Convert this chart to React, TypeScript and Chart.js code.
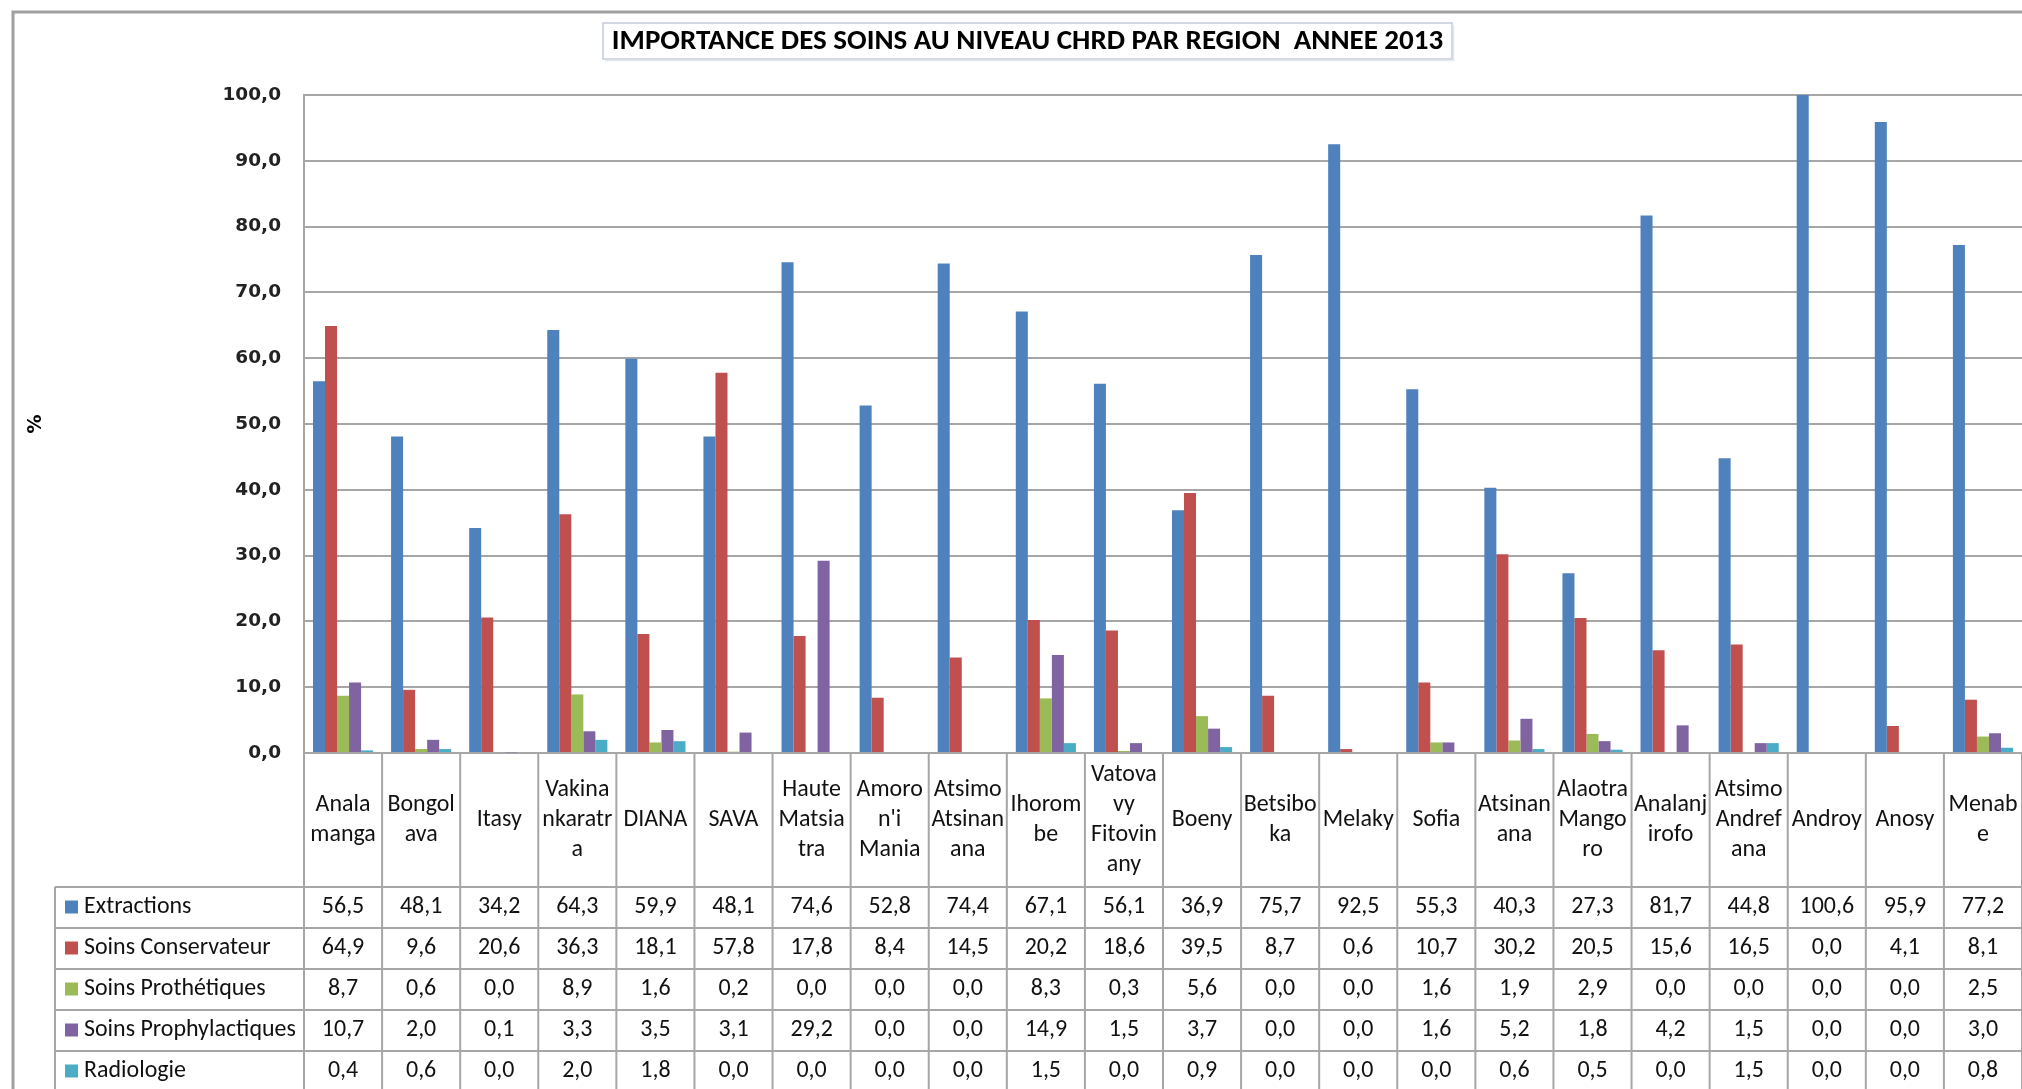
import React, { useEffect, useRef } from "react";
import { Chart, registerables } from "chart.js";

Chart.register(...registerables);

// ---- data ----
const chartTitle = "IMPORTANCE DES SOINS AU NIVEAU CHRD PAR REGION  ANNEE 2013";
const yAxisTitle = "%";

const categories: string[][] = [
  ["Anala", "manga"],
  ["Bongol", "ava"],
  ["Itasy"],
  ["Vakina", "nkaratr", "a"],
  ["DIANA"],
  ["SAVA"],
  ["Haute", "Matsia", "tra"],
  ["Amoro", "n'i", "Mania"],
  ["Atsimo", "Atsinan", "ana"],
  ["Ihorom", "be"],
  ["Vatova", "vy", "Fitovin", "any"],
  ["Boeny"],
  ["Betsibo", "ka"],
  ["Melaky"],
  ["Sofia"],
  ["Atsinan", "ana"],
  ["Alaotra", "Mango", "ro"],
  ["Analanj", "irofo"],
  ["Atsimo", "Andref", "ana"],
  ["Androy"],
  ["Anosy"],
  ["Menab", "e"],
];

const seriesNames = [
  "Extractions",
  "Soins Conservateur",
  "Soins Prothétiques",
  "Soins Prophylactiques",
  "Radiologie",
];

const extractions = [56.5, 48.1, 34.2, 64.3, 59.9, 48.1, 74.6, 52.8, 74.4, 67.1, 56.1, 36.9, 75.7, 92.5, 55.3, 40.3, 27.3, 81.7, 44.8, 100.6, 95.9, 77.2];
const soinsConservateur = [64.9, 9.6, 20.6, 36.3, 18.1, 57.8, 17.8, 8.4, 14.5, 20.2, 18.6, 39.5, 8.7, 0.6, 10.7, 30.2, 20.5, 15.6, 16.5, 0.0, 4.1, 8.1];
const soinsProthetiques = [8.7, 0.6, 0.0, 8.9, 1.6, 0.2, 0.0, 0.0, 0.0, 8.3, 0.3, 5.6, 0.0, 0.0, 1.6, 1.9, 2.9, 0.0, 0.0, 0.0, 0.0, 2.5];
const soinsProphylactiques = [10.7, 2.0, 0.1, 3.3, 3.5, 3.1, 29.2, 0.0, 0.0, 14.9, 1.5, 3.7, 0.0, 0.0, 1.6, 5.2, 1.8, 4.2, 1.5, 0.0, 0.0, 3.0];
const radiologie = [0.4, 0.6, 0.0, 2.0, 1.8, 0.0, 0.0, 0.0, 0.0, 1.5, 0.0, 0.9, 0.0, 0.0, 0.0, 0.6, 0.5, 0.0, 1.5, 0.0, 0.0, 0.8];

const seriesValues = [extractions, soinsConservateur, soinsProthetiques, soinsProphylactiques, radiologie];

const yMin = 0;
const yMax = 100;
const yStep = 10;

// ---- styles ----
const seriesColors = ["#4F81BD", "#C0504D", "#9BBB59", "#8064A2", "#4BACC6"];
const lineGray = "#a6a6a6";
const tableFamily = "Carlito, Lato, 'Liberation Sans', sans-serif";

const fmt = (v: number) => v.toFixed(1).replace(".", ",");

const W = 2022;
const H = 1089;

const tablePlugin = {
  id: "dataTablePlugin",
  afterDraw(chart: any) {
    const { ctx, chartArea } = chart;
    const xs = chart.scales.x;
    const n = categories.length;
    const colW = (chartArea.right - chartArea.left) / n;
    const headerTop = chartArea.bottom;
    const headerBottom = headerTop + 134;
    const rowH = 41;
    const tableLeft = 55;

    ctx.save();

    // outer chart border (left + top)
    ctx.strokeStyle = "#a0a0a0";
    ctx.lineWidth = 3;
    ctx.beginPath();
    ctx.moveTo(13, H + 5);
    ctx.lineTo(13, 12);
    ctx.lineTo(W + 5, 12);
    ctx.stroke();

    // title box + text
    ctx.font = `bold 100px ${tableFamily}`;
    const tw = ctx.measureText(chartTitle).width;
    const titleSize = Math.min(30, (100 * 832) / tw);
    ctx.fillStyle = "#ffffff";
    ctx.fillRect(603, 23, 849, 36);
    ctx.strokeStyle = "#c4ccda";
    ctx.lineWidth = 1.5;
    ctx.strokeRect(603, 23, 849, 36);
    ctx.strokeStyle = "#e4e7ec";
    ctx.beginPath();
    ctx.moveTo(605, 60.5);
    ctx.lineTo(1453.5, 60.5);
    ctx.lineTo(1453.5, 25);
    ctx.stroke();
    ctx.fillStyle = "#000";
    ctx.font = `bold ${titleSize}px ${tableFamily}`;
    ctx.textAlign = "center";
    ctx.textBaseline = "middle";
    ctx.fillText(chartTitle, 1027.5, 42);

    // table font size fitted to the legend column width
    ctx.font = `100px ${tableFamily}`;
    const lw = ctx.measureText("Soins Prophylactiques").width;
    const fs = Math.min(24, (100 * 212) / lw);

    // grid lines of the table
    ctx.strokeStyle = lineGray;
    ctx.lineWidth = 2;
    ctx.beginPath();
    for (let i = 0; i <= n; i++) {
      const bx = i < n ? xs.getPixelForValue(i) - colW / 2 : xs.getPixelForValue(n - 1) + colW / 2;
      ctx.moveTo(bx, headerTop);
      ctx.lineTo(bx, H + 5);
    }
    ctx.moveTo(tableLeft, headerBottom);
    ctx.lineTo(tableLeft, H + 5);
    for (let r = 0; r < seriesNames.length; r++) {
      const y = headerBottom + r * rowH;
      ctx.moveTo(tableLeft, y);
      ctx.lineTo(W + 5, y);
    }
    ctx.stroke();

    // header labels
    ctx.fillStyle = "#111";
    ctx.font = `${fs}px ${tableFamily}`;
    ctx.textAlign = "center";
    ctx.textBaseline = "middle";
    const headerMid = (headerTop + headerBottom) / 2;
    const lineH = 30;
    categories.forEach((lines, i) => {
      const cx = xs.getPixelForValue(i);
      lines.forEach((t, k) => {
        ctx.fillText(t, cx, headerMid + (k - (lines.length - 1) / 2) * lineH);
      });
    });

    // rows
    seriesNames.forEach((name, r) => {
      const cy = headerBottom + r * rowH + rowH / 2;
      ctx.fillStyle = seriesColors[r];
      ctx.fillRect(65, cy - 7, 13, 13);
      ctx.fillStyle = "#111";
      ctx.textAlign = "left";
      ctx.fillText(name, 84, cy);
      ctx.textAlign = "center";
      seriesValues[r].forEach((v, i) => {
        ctx.fillText(fmt(v), xs.getPixelForValue(i), cy);
      });
    });

    ctx.restore();
  },
};

export default function App() {
  const ref = useRef<HTMLCanvasElement>(null);

  useEffect(() => {
    const canvas = ref.current!;
    const chart = new Chart(canvas, {
      type: "bar",
      data: {
        labels: categories.map((c) => c.join("")),
        datasets: seriesNames.map((name, i) => ({
          label: name,
          data: seriesValues[i],
          backgroundColor: seriesColors[i],
          borderWidth: 0,
          barPercentage: 1,
          categoryPercentage: 0.77,
          clip: 0,
        })),
      },
      options: {
        responsive: false,
        animation: false,
        devicePixelRatio: 1,
        layout: { padding: { left: 14, right: 0, top: 95, bottom: H - 753 } },
        plugins: {
          legend: { display: false },
          title: { display: false },
          tooltip: { enabled: false },
        },
        scales: {
          x: {
            display: false,
            offset: true,
          },
          y: {
            min: yMin,
            max: yMax,
            ticks: {
              stepSize: yStep,
              padding: 23,
              color: "#222",
              font: { family: "'DejaVu Sans', Verdana, sans-serif", weight: "bold", size: 18.5 },
              callback: (v: any) => fmt(Number(v)),
            },
            grid: { color: lineGray, lineWidth: 2, drawTicks: false },
            border: { display: true, color: lineGray, width: 2 },
            title: {
              display: true,
              text: yAxisTitle,
              color: "#000",
              font: { family: "'DejaVu Sans', Verdana, sans-serif", weight: "bold", size: 19 },
              padding: { top: 11, bottom: 0 },
            },
            afterFit: (scale: any) => {
              scale.width = 290;
            },
          },
        },
      },
      plugins: [tablePlugin],
    });
    return () => chart.destroy();
  }, []);

  return (
    <div
      style={{
        position: "fixed",
        left: 0,
        top: 0,
        width: W,
        height: H,
        overflow: "hidden",
        background: "#ffffff",
      }}
    >
      <canvas ref={ref} width={W} height={H} style={{ display: "block", width: W, height: H }} />
    </div>
  );
}
